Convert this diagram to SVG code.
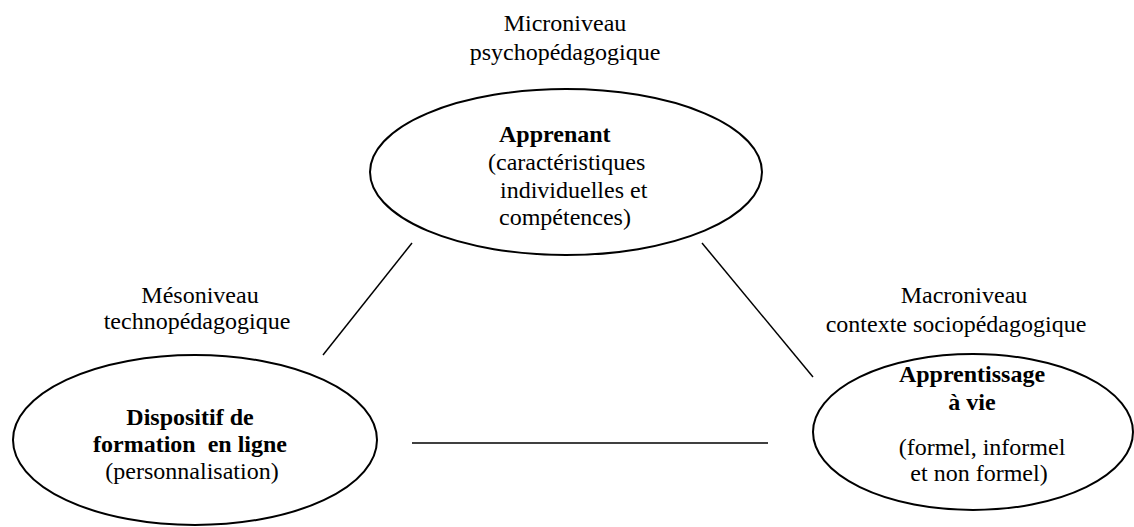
<svg xmlns="http://www.w3.org/2000/svg" width="1134" height="527" viewBox="0 0 1134 527">
<style>
text{font-family:"Liberation Serif","Times New Roman",serif;font-size:24px;fill:#000}
.b{font-weight:bold}
.m{text-anchor:middle}
ellipse{fill:#fff;stroke:#000;stroke-width:2}
.c line{stroke:#000;stroke-width:1.5}
</style>
<rect width="1134" height="527" fill="#fff"/>
<g class="c" id="connectors">
<line x1="412" y1="243" x2="323" y2="355"/>
<line x1="702" y1="243" x2="813" y2="377"/>
<line x1="412" y1="443" x2="768" y2="443"/>
</g>
<g id="labels">
<text class="m" x="565" y="31">Microniveau</text>
<text class="m" x="565" y="60">psychopédagogique</text>
<text class="m" x="200" y="303">Mésoniveau</text>
<text class="m" x="197" y="329">technopédagogique</text>
<text class="m" x="964" y="303">Macroniveau</text>
<text class="m" x="956" y="332">contexte sociopédagogique</text>
</g>
<g id="apprenant">
<ellipse cx="566" cy="172" rx="196" ry="83"/>
<text class="b" x="499" y="142">Apprenant</text>
<text x="488" y="170">(caractéristiques</text>
<text x="500" y="198">individuelles et</text>
<text x="499" y="225">compétences)</text>
</g>
<g id="dispositif">
<ellipse cx="195" cy="440" rx="182" ry="85"/>
<text class="b m" x="190" y="425">Dispositif de</text>
<text class="b m" x="190" y="452" xml:space="preserve">formation  en ligne</text>
<text class="m" x="192" y="479">(personnalisation)</text>
</g>
<g id="apprentissage">
<ellipse cx="973" cy="432" rx="160" ry="78"/>
<text class="b m" x="972" y="382">Apprentissage</text>
<text class="b m" x="972" y="410">à vie</text>
<text class="m" x="982" y="455">(formel, informel</text>
<text class="m" x="979" y="481">et non formel)</text>
</g>
</svg>
